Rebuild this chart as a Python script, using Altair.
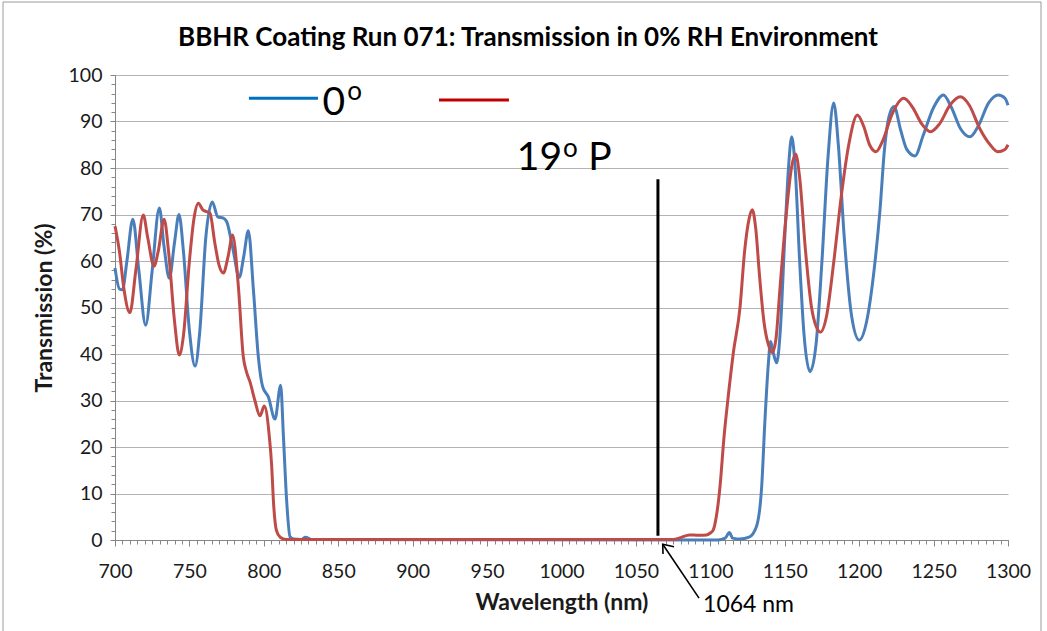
import altair as alt
import pandas as pd

# ---------------- data ----------------
blue_nm = [700, 703, 705, 708, 712, 716, 720.6, 725, 729.8, 733, 736.5, 740, 743, 746, 750,
           753.8, 757, 761, 765.4, 769, 772.8, 775, 779, 783.5, 786.5, 789.6, 793, 796.3,
           799.2, 803, 807.5, 811.3, 813.2, 815.3, 817.6, 820, 825, 828, 832, 1105,
           1110, 1112.8, 1115, 1120, 1126, 1131, 1134.5, 1136.7, 1139, 1140.5, 1142.5,
           1144.6, 1147, 1150, 1152.5, 1154.7, 1157, 1160, 1163, 1167, 1171, 1175, 1179,
           1182.9, 1186, 1190, 1195, 1200, 1205, 1210, 1214, 1217, 1220, 1223.4, 1228, 1232,
           1237.5, 1243, 1250, 1256.6, 1262, 1268, 1274.5, 1280, 1287, 1293.5, 1298, 1300]
blue_t = [58.5, 54.0, 53.8, 60, 69, 58, 46.2, 58, 71.4, 63, 56.3, 64, 70, 62, 45,
          37.4, 45, 65, 72.7, 69.5, 69.2, 68.5, 63, 56.5, 61, 66.5, 53.8, 39.4,
          33, 30.8, 26, 33.3, 22, 8.6, 0.7, 0.2, 0.1, 0.6, 0.1, 0,
          0.4, 1.6, 0.4, 0.2, 0.6, 2.9, 11.5, 25.8, 38, 42.7, 40,
          38.1, 45, 65, 80, 86.7, 80, 60, 44, 36.2, 42, 60, 82,
          94, 85, 65, 48, 43, 47, 58, 71, 84, 91, 93.2, 88, 84,
          82.6, 87, 93, 95.7, 93, 88.5, 86.7, 89, 94, 95.7, 95, 93.5]

red_nm = [700, 703, 706, 710, 714, 719, 722, 726.2, 729, 733, 736, 740, 743.2, 746, 750,
          753, 756, 759, 761.6, 763.8, 767, 770, 772.8, 776, 779, 782.9, 786.2, 788.5,
          790.7, 794, 797.4, 800.3, 803.7, 805.3, 806.4, 808.5, 811, 815, 1075, 1080,
          1086, 1092, 1097.5, 1100, 1102, 1104, 1106.5, 1109.2, 1112, 1115.4, 1120, 1123,
          1126, 1128.2, 1130.5, 1133, 1136, 1139, 1141.6, 1144, 1147, 1151, 1154.5,
          1157.3, 1160, 1164, 1168, 1171, 1174, 1178, 1183, 1188, 1193, 1198.8, 1203,
          1207, 1211.3, 1216, 1222, 1230, 1236, 1242, 1248, 1254, 1261, 1268, 1274,
          1281, 1288, 1293, 1298, 1300]
red_t = [67.5, 62, 54, 48.9, 58, 69.9, 65, 58.9, 62, 69, 62, 47, 39.8, 44, 60,
         69, 72.4, 71, 70.6, 70.3, 64, 59, 57.4, 61, 65.6, 54.5, 39.4, 36,
         34, 30, 26.7, 28.8, 22.2, 15.8, 8.6, 2, 0.6, 0.1, 0.1, 0.5,
         1.1, 1.0, 1.1, 1.5, 2.2, 5, 11.5, 22.2, 30.8, 40.1, 50.2, 62,
         69, 71, 67, 57, 47, 42, 40.3, 43, 55, 70, 80,
         83, 78, 62, 50, 46, 44.7, 48, 60, 74, 85, 91.4, 89,
         85, 83.5, 86, 91.5, 95, 93, 89.5, 87.8, 89.5, 93.5, 95.3, 93.5,
         88.5, 85, 83.5, 84, 85]

x_major = list(range(700, 1301, 50))
x_minor = list(range(700, 1301, 5))
y_major = list(range(0, 101, 10))
y_minor = list(range(0, 101, 2))

title_text = "BBHR Coating Run 071: Transmission in 0% RH Environment"
x_title = "Wavelength (nm)"
y_title = "Transmission (%)"

# annotation content (data coordinates)
legend_names = ["0°", "19° P"]
legend_x1 = [790, 917.7]
legend_x2 = [836.4, 964.7]
legend_y = [95, 94.6]

laser_nm = 1064.8
laser_top = 77.6
laser_bottom = 0.9

BLUE = "#4A7EBB"
RED = "#BE4B48"
LEG_BLUE = "#0070C0"
LEG_RED = "#C00000"
FONT = "Lato"

W, H = 893, 465
xs = alt.Scale(domain=[700, 1300], nice=False, zero=False)
ys = alt.Scale(domain=[0, 100], nice=False, zero=False)

df_blue = pd.DataFrame({"nm": blue_nm, "T": blue_t})
df_red = pd.DataFrame({"nm": red_nm, "T": red_t})

blue = alt.Chart(df_blue).mark_line(color=BLUE, strokeWidth=3, interpolate="monotone").encode(
    x=alt.X("nm:Q", scale=xs, axis=alt.Axis(values=x_major, title=x_title, grid=False,
                                            format="d", labelFlush=False,
                                            tickSize=6, labelPadding=16, titlePadding=11,
                                            orient="bottom")),
    y=alt.Y("T:Q", scale=ys, axis=alt.Axis(values=y_major, title=y_title, grid=True,
                                           labelFlush=False,
                                           tickSize=5, labelPadding=8, titlePadding=12,
                                           orient="left")),
)

red = alt.Chart(df_red).mark_line(color=RED, strokeWidth=3, interpolate="monotone").encode(
    x=alt.X("nm:Q", scale=xs, axis=alt.Axis(values=x_minor, labels=False, grid=False,
                                            domain=False, tickSize=4, orient="bottom",
                                            title=None)),
    y=alt.Y("T:Q", scale=ys, axis=alt.Axis(values=y_minor, labels=False, grid=False,
                                           domain=False, tickSize=4, orient="left",
                                           title=None)),
)

# chart title as text placed over the plot
df_title = pd.DataFrame({"t": [title_text], "x": [977.5], "y": [108.0]})
title = alt.Chart(df_title).mark_text(font=FONT, fontSize=26, fontWeight="bold", align="center",
                                      baseline="middle", color="black").encode(
    x=alt.X("x:Q", scale=xs, axis=None), y=alt.Y("y:Q", scale=ys, axis=None), text="t:N")

# legend lines
df_leg = pd.DataFrame({"name": legend_names, "x1": legend_x1, "x2": legend_x2, "y": legend_y})
leg_lines = alt.Chart(df_leg).mark_rule(strokeWidth=3).encode(
    x=alt.X("x1:Q", scale=xs, axis=None),
    x2="x2:Q",
    y=alt.Y("y:Q", scale=ys, axis=None),
    color=alt.Color("name:N", scale=alt.Scale(domain=legend_names, range=[LEG_BLUE, LEG_RED]),
                    legend=None),
)

# legend texts (big digits and superscript o)
big_txt = ["0", "19", "P"]
big_x = [839.5, 970.0, 1017.9]
big_y = [91.4, 79.6, 79.6]
df_big = pd.DataFrame({"t": big_txt, "x": big_x, "y": big_y})
big = alt.Chart(df_big).mark_text(font=FONT, fontSize=39, align="left", baseline="alphabetic",
                                  color="black").encode(
    x=alt.X("x:Q", scale=xs, axis=None), y=alt.Y("y:Q", scale=ys, axis=None), text="t:N")

sup_x = [861.0, 1006.0]
sup_y = [96.3, 84.0]
df_sup = pd.DataFrame({"t": ["o", "o"], "x": sup_x, "y": sup_y})
sup = alt.Chart(df_sup).mark_text(font=FONT, fontSize=26, align="center", baseline="middle",
                                  color="black").encode(
    x=alt.X("x:Q", scale=xs, axis=None), y=alt.Y("y:Q", scale=ys, axis=None), text="t:N")

# 1064 nm line
df_laser = pd.DataFrame({"x": [laser_nm], "y1": [laser_bottom], "y2": [laser_top]})
laser = alt.Chart(df_laser).mark_rule(color="black", strokeWidth=3).encode(
    x=alt.X("x:Q", scale=xs, axis=None), y=alt.Y("y1:Q", scale=ys, axis=None), y2="y2:Q")

# arrow and its label
arrow_part = ["shaft", "shaft", "head", "head", "head"]
arrow_i = [0, 1, 0, 1, 2]
arrow_x = [1092.4, 1068.0, 1068.2, 1068.0, 1075.6]
arrow_y = [-12.5, -0.92, -3.0, -0.92, -1.44]
df_arrow = pd.DataFrame({"part": arrow_part, "i": arrow_i, "x": arrow_x, "y": arrow_y})
arrow = alt.Chart(df_arrow).mark_line(color="black", strokeWidth=1.6).encode(
    x=alt.X("x:Q", scale=xs, axis=None), y=alt.Y("y:Q", scale=ys, axis=None),
    detail="part:N", order="i:Q")

df_lab = pd.DataFrame({"t": ["1064 nm"], "x": [1095.1], "y": [-15.5]})
lab = alt.Chart(df_lab).mark_text(font=FONT, fontSize=23, align="left", baseline="alphabetic",
                                  color="black").encode(
    x=alt.X("x:Q", scale=xs, axis=None), y=alt.Y("y:Q", scale=ys, axis=None), text="t:N")

# outer frame of the picture
frame = alt.Chart(pd.DataFrame({"a": [0]})).mark_rect(fill=None, stroke="#9a9a9a",
                                                      strokeWidth=1).encode(
    x=alt.value(-112), x2=alt.value(926), y=alt.value(-73), y2=alt.value(570))

chart = alt.layer(blue, red, title, leg_lines, big, sup, laser, arrow, lab, frame).resolve_axis(
    x="independent", y="independent"
).properties(
    width=W, height=H,
    autosize=alt.AutoSizeParams(type="none"),
    padding={"left": 115, "top": 75, "right": 39, "bottom": 91},
    background="white",
).configure_view(strokeWidth=0).configure_axis(
    labelFont=FONT, labelFontSize=19.5, labelColor="#1a1a1a",
    titleFont=FONT, titleFontSize=23, titleFontWeight="bold", titleColor="#1a1a1a",
    domainColor="#868686", tickColor="#868686", gridColor="#b3b3b3", gridWidth=1,
)

chart.save("out.html", embed_options={"renderer": "svg", "actions": False})
